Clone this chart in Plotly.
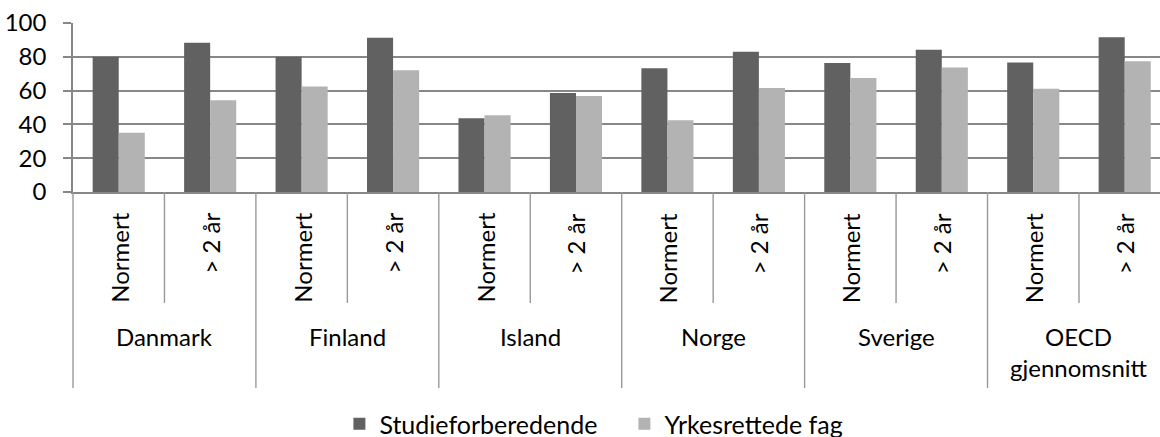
import plotly.graph_objects as go

groups = ["Danmark", "Finland", "Island", "Norge", "Sverige", "OECD<br>gjennomsnitt"]
subcats = ["Normert", "> 2 år"]
studie = [80, 88.3, 80, 91.3, 43.6, 58.6, 73.2, 83, 76.3, 84.2, 76.7, 91.5]
yrkes = [35, 54.3, 62.5, 72, 45.4, 56.8, 42.4, 61.5, 67.5, 73.6, 61.1, 77.3]
series_names = ["Studieforberedende", "Yrkesrettede fag"]
yticks = [0, 20, 40, 60, 80, 100]

FONT = "Lato"
FS = 24
W, H = 1160, 437
ML, MT, MB, MR = 73, 23, 245, 0
x0, x1 = -0.5, 11.386
plot_h = H - MT - MB
GRID = "#878787"

xs = list(range(len(studie)))
fig = go.Figure()
fig.add_trace(go.Bar(x=xs, y=studie, name=series_names[0], marker_color="#616161",
                     marker_line_width=0))
fig.add_trace(go.Bar(x=xs, y=yrkes, name=series_names[1], marker_color="#b3b3b3",
                     marker_line_width=0))

def xpaper(v):
    return (v - x0) / (x1 - x0)

shapes = []
annotations = []
n = len(xs)
for i in range(n):
    annotations.append(dict(x=i, y=0, xref="x", yref="paper", yshift=-19,
                            text=subcats[i % 2], textangle=-90, showarrow=False,
                            xanchor="center", yanchor="top",
                            font=dict(family=FONT, size=FS, color="#000")))
for i in range(n + 1):
    b = i - 0.5
    if b > x1:
        continue
    long_ = (i % 2 == 0)
    depth = 196 if long_ else 111
    shapes.append(dict(type="line", xref="paper", yref="paper",
                       x0=xpaper(b), x1=xpaper(b), y0=0, y1=-depth / plot_h,
                       line=dict(color="#999999", width=1.4)))
for g, name in enumerate(groups):
    annotations.append(dict(x=2 * g + 0.5, y=0, xref="x", yref="paper", yshift=-128,
                            text=name, showarrow=False, xanchor="center", yanchor="top",
                            font=dict(family=FONT, size=FS, color="#000")))
shapes.append(dict(type="line", xref="paper", yref="paper",
                   x0=-8 / (W - ML - MR), x1=0, y0=0, y1=0,
                   line=dict(color=GRID, width=1.5)))

fig.update_layout(
    width=W, height=H,
    margin=dict(l=ML, r=MR, t=MT, b=MB, autoexpand=False),
    paper_bgcolor="white", plot_bgcolor="white",
    barmode="group", bargap=0.43, bargroupgap=0,
    font=dict(family=FONT, size=FS, color="#000"),
    showlegend=True,
    legend=dict(orientation="h", x=xpaper(2.413), xanchor="left",
                y=-(401 - (H - MB)) / plot_h, yanchor="top",
                font=dict(family=FONT, size=25, color="#000"),
                itemwidth=30, entrywidth=240, traceorder="normal"),
    shapes=shapes, annotations=annotations,
    xaxis=dict(range=[x0, x1], showticklabels=False, showgrid=False, zeroline=False,
               showline=True, linecolor=GRID, linewidth=1.5, ticks="", automargin=False),
    yaxis=dict(range=[0, 100], tickvals=yticks, showgrid=True, gridcolor=GRID,
               gridwidth=1.5, zeroline=False, showline=True, linecolor=GRID,
               linewidth=1.5, ticks="outside", ticklen=8, tickcolor=GRID,
               tickwidth=1.5, ticklabelstandoff=12, automargin=False,
               tickfont=dict(family=FONT, size=FS, color="#000")),
)

fig.write_html("out.html", config={"displayModeBar": False},
               post_script="document.body.style.margin='0';document.body.style.overflow='hidden';")
